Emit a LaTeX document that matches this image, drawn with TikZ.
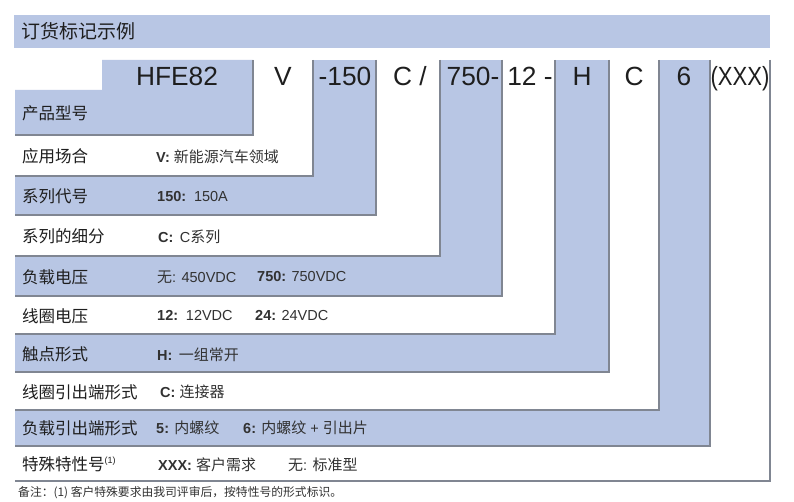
\documentclass[tikz,border=0pt]{standalone}
\usepackage{fontspec}
\setmainfont{Liberation Sans}
\newfontfamily\cjk{Noto Sans CJK SC}
\definecolor{bandblue}{RGB}{184,198,228}
\definecolor{edgegray}{RGB}{128,134,146}
\definecolor{txt}{RGB}{30,30,30}
\definecolor{desctxt}{RGB}{50,50,50}
\begin{document}
\begin{tikzpicture}[x=1pt,y=-1pt,
  edgeline/.style={draw=edgegray,line width=1.3pt},
  code/.style={anchor=base,inner sep=0pt,text=txt,font=\fontsize{26.3}{30}\selectfont},
  lbl/.style={anchor=west,inner sep=0pt,text=txt,font=\cjk\fontsize{16.5}{18}\selectfont},
  desc/.style={anchor=west,inner sep=0pt,text=desctxt,font=\fontsize{14.5}{16}\selectfont},
  hdr/.style={anchor=west,inner sep=0pt,text=txt,font=\cjk\fontsize{19}{21}\selectfont},
  note/.style={anchor=west,inner sep=0pt,text=desctxt,font=\cjk\fontsize{11.8}{13}\selectfont}]
\useasboundingbox[fill=white] (0,0) rectangle (794,502);
% header
\fill[bandblue] (14,15) rectangle (770,48);
\node[hdr] (header) at (21,31.5) {订货标记示例};
% nested boxes, outermost first
\foreach \r/\b/\c in {770/481/white,710/446/bandblue,659/410/white,609/372/bandblue,555/334/white,502/296/bandblue,440/256/white,376/215/bandblue,313/176/white}{
  \fill[\c] (15,60) rectangle (\r,\b);
  \draw[edgeline] (\r,60) -- (\r,\b) -- (15,\b);
}
% innermost L shape
\fill[bandblue] (15,90) -- (102,90) -- (102,60) -- (253,60) -- (253,135) -- (15,135) -- cycle;
\draw[edgeline] (253,60) -- (253,135) -- (15,135);
% code row
\node[code] (c1) at (177,86) {HFE82};
\node[code] (c2) at (283,86) {V};
\node[code] (c3) at (345,86) {-150};
\node[code] (c4) at (410,86) {C /};
\node[code] (c5) at (473,86) {750-};
\node[code] (c6) at (530,86) {12 -};
\node[code] (c7) at (582,86) {H};
\node[code] (c8) at (634,86) {C};
\node[code] (c9) at (684,86) {6};
\node[code] (c10) at (740,86) {\scalebox{0.84}[1]{(XXX)}};
% row labels
\node[lbl] (l1) at (22,113) {产品型号};
\node[lbl] (l2) at (22,156.5) {应用场合};
\node[lbl] (l3) at (22,196.5) {系列代号};
\node[lbl] (l4) at (22,236.5) {系列的细分};
\node[lbl] (l5) at (22,277) {负载电压};
\node[lbl] (l6) at (22,316) {线圈电压};
\node[lbl] (l7) at (22,354) {触点形式};
\node[lbl] (l8) at (22,392) {线圈引出端形式};
\node[lbl] (l9) at (22,428.5) {负载引出端形式};
\node[lbl] (l10) at (22,464.5) {特殊特性号\raisebox{7pt}{\fontsize{9}{9}\selectfont\rmfamily(1)}};
% descriptions
\node[desc] (d2) at (156,157) {\textbf{V:} {\cjk\fontsize{15}{16}\selectfont 新能源汽车领域}};
\node[desc] (d3) at (157,197) {\textbf{150:}\, 150A};
\node[desc] (d4) at (158,237) {\textbf{C:}\, C{\cjk\fontsize{15}{16}\selectfont 系列}};
\node[desc] (d5a) at (157,277) {{\cjk\fontsize{15}{16}\selectfont 无}: 450VDC};
\node[desc] (d5b) at (257,277) {\textbf{750:} 750VDC};
\node[desc] (d6a) at (157,316) {\textbf{12:}\, 12VDC};
\node[desc] (d6b) at (255,316) {\textbf{24:} 24VDC};
\node[desc] (d7) at (157,355) {\textbf{H:}\, {\cjk\fontsize{15}{16}\selectfont 一组常开}};
\node[desc] (d8) at (160,392) {\textbf{C:} {\cjk\fontsize{15}{16}\selectfont 连接器}};
\node[desc] (d9a) at (156,428) {\textbf{5:} {\cjk\fontsize{15}{16}\selectfont 内螺纹}};
\node[desc] (d9b) at (243,428) {\textbf{6:} {\cjk\fontsize{15}{16}\selectfont 内螺纹} + {\cjk\fontsize{15}{16}\selectfont 引出片}};
\node[desc] (d10a) at (158,465) {\textbf{XXX:} {\cjk\fontsize{15}{16}\selectfont 客户需求}};
\node[desc] (d10b) at (288,465) {{\cjk\fontsize{15}{16}\selectfont 无}: {\cjk\fontsize{15}{16}\selectfont 标准型}};
% note
\node[note] (fn) at (18,493) {备注：(1) 客户特殊要求由我司评审后，按特性号的形式标识。};
\end{tikzpicture}
\end{document}
